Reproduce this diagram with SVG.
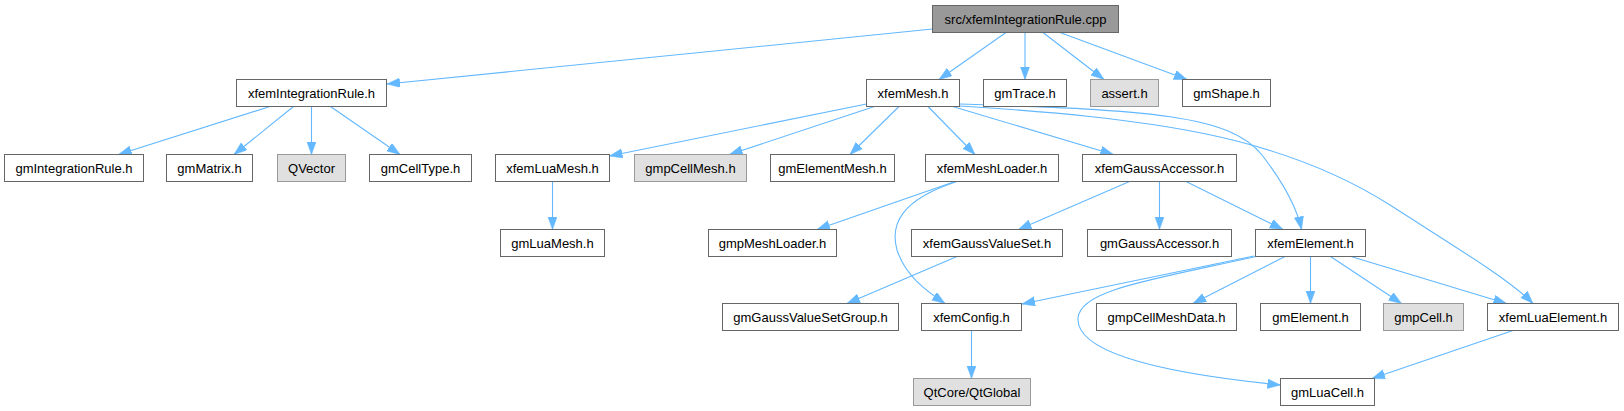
<svg xmlns="http://www.w3.org/2000/svg" width="1624" height="411" viewBox="0 0 1624 411">
<style>
.n rect{fill:#ffffff;stroke:#666666;stroke-width:1}
.g rect{fill:#e0e0e0;stroke:#999999;stroke-width:1}
.r rect{fill:#999999;stroke:#666666;stroke-width:1}
text{font-family:"Liberation Sans",Arial,sans-serif;font-size:13px;fill:#000000;text-anchor:middle}
#edges path{fill:none;stroke:#63b8ff;stroke-width:1.1;marker-end:url(#arr)}
</style>
<defs>
<marker id="arr" markerUnits="userSpaceOnUse" markerWidth="14" markerHeight="10" refX="13" refY="4.7" orient="auto">
<path d="M0,0 L13,4.7 L0,9.4 z" fill="#63b8ff" stroke="#63b8ff" stroke-width="0.5"/>
</marker>
</defs>
<rect width="1624" height="411" fill="#ffffff"/>
<g id="edges">
<path d="M932.5,29 L387,84"/>
<path d="M1006,32.5 L939,79.5"/>
<path d="M1025,32.5 L1025,79.5"/>
<path d="M1043,32.5 L1104,79.5"/>
<path d="M1060,32.5 L1187,79.5"/>
<path d="M270,106.5 L118.6,154.5"/>
<path d="M293.5,106.5 L234,154.5"/>
<path d="M311.5,106.5 L311.5,154.5"/>
<path d="M330.5,106.5 L400,154.5"/>
<path d="M866.5,104 L609.5,156"/>
<path d="M874.5,106.5 L729.5,154.5"/>
<path d="M899,106.5 L850,154.5"/>
<path d="M928,106.5 L975,154.5"/>
<path d="M952.6,106.5 L1113.4,154.5"/>
<path d="M960,104 C1150,110 1230,115 1262,155 C1285,185 1297,208 1301.5,229.5"/>
<path d="M960,106 C1150,118 1280,135 1390,205 C1460,250 1510,280 1533,303.5"/>
<path d="M552.5,181.5 L552.5,229.5"/>
<path d="M955,181.5 L817,229.5"/>
<path d="M957,181.5 C900,200 890,225 897,250 C905,275 925,290 945,303.5"/>
<path d="M1129.5,181.5 L1018.5,229.5"/>
<path d="M1159.5,181.5 L1159.5,229.5"/>
<path d="M1186,181.5 L1283,229.5"/>
<path d="M957,256.5 L847,303.5"/>
<path d="M1254,256 L1022,304"/>
<path d="M1256,256.5 C1150,280 1080,290 1078,318 C1076,350 1150,372 1280.5,385"/>
<path d="M1285,256.5 L1193,303.5"/>
<path d="M1310.5,256.5 L1310.5,303.5"/>
<path d="M1330.5,256.5 L1401.5,303.5"/>
<path d="M1351,256.5 L1506.5,303.5"/>
<path d="M1513,330.5 L1372,378.5"/>
<path d="M971.5,330.5 L971.5,378.5"/>
</g>
<g id="n_root" class="r"><rect x="932.5" y="5.5" width="186" height="27"/><text x="1025.5" y="23.5">src/xfemIntegrationRule.cpp</text></g>
<g id="n_xfemIntegrationRule" class="n"><rect x="236.5" y="79.5" width="150" height="27"/><text x="311.5" y="97.5">xfemIntegrationRule.h</text></g>
<g id="n_xfemMesh" class="n"><rect x="866.5" y="79.5" width="93" height="27"/><text x="913" y="97.5">xfemMesh.h</text></g>
<g id="n_gmTrace" class="n"><rect x="983.5" y="79.5" width="83" height="27"/><text x="1025" y="97.5">gmTrace.h</text></g>
<g id="n_assert" class="g"><rect x="1090.5" y="79.5" width="68" height="27"/><text x="1124.5" y="97.5">assert.h</text></g>
<g id="n_gmShape" class="n"><rect x="1182.5" y="79.5" width="88" height="27"/><text x="1226.5" y="97.5">gmShape.h</text></g>
<g id="n_gmIntegrationRule" class="n"><rect x="4.5" y="154.5" width="139" height="27"/><text x="74" y="172.5">gmIntegrationRule.h</text></g>
<g id="n_gmMatrix" class="n"><rect x="166.5" y="154.5" width="86" height="27"/><text x="209.5" y="172.5">gmMatrix.h</text></g>
<g id="n_QVector" class="g"><rect x="277.5" y="154.5" width="68" height="27"/><text x="311.5" y="172.5">QVector</text></g>
<g id="n_gmCellType" class="n"><rect x="369.5" y="154.5" width="102" height="27"/><text x="420.5" y="172.5">gmCellType.h</text></g>
<g id="n_xfemLuaMesh" class="n"><rect x="495.5" y="154.5" width="114" height="27"/><text x="552.5" y="172.5">xfemLuaMesh.h</text></g>
<g id="n_gmpCellMesh" class="g"><rect x="634.5" y="154.5" width="112" height="27"/><text x="690.5" y="172.5">gmpCellMesh.h</text></g>
<g id="n_gmElementMesh" class="n"><rect x="770.5" y="154.5" width="124" height="27"/><text x="832.5" y="172.5">gmElementMesh.h</text></g>
<g id="n_xfemMeshLoader" class="n"><rect x="925.5" y="154.5" width="133" height="27"/><text x="992" y="172.5">xfemMeshLoader.h</text></g>
<g id="n_xfemGaussAccessor" class="n"><rect x="1082.5" y="154.5" width="154" height="27"/><text x="1159.5" y="172.5">xfemGaussAccessor.h</text></g>
<g id="n_gmLuaMesh" class="n"><rect x="500.5" y="229.5" width="104" height="27"/><text x="552.5" y="247.5">gmLuaMesh.h</text></g>
<g id="n_gmpMeshLoader" class="n"><rect x="708.5" y="229.5" width="128" height="27"/><text x="772.5" y="247.5">gmpMeshLoader.h</text></g>
<g id="n_xfemGaussValueSet" class="n"><rect x="911.5" y="229.5" width="151" height="27"/><text x="987" y="247.5">xfemGaussValueSet.h</text></g>
<g id="n_gmGaussAccessor" class="n"><rect x="1087.5" y="229.5" width="144" height="27"/><text x="1159.5" y="247.5">gmGaussAccessor.h</text></g>
<g id="n_xfemElement" class="n"><rect x="1255.5" y="229.5" width="110" height="27"/><text x="1310.5" y="247.5">xfemElement.h</text></g>
<g id="n_gmGaussValueSetGroup" class="n"><rect x="722.5" y="303.5" width="176" height="27"/><text x="810.5" y="321.5">gmGaussValueSetGroup.h</text></g>
<g id="n_xfemConfig" class="n"><rect x="921.5" y="303.5" width="100" height="27"/><text x="971.5" y="321.5">xfemConfig.h</text></g>
<g id="n_gmpCellMeshData" class="n"><rect x="1096.5" y="303.5" width="140" height="27"/><text x="1166.5" y="321.5">gmpCellMeshData.h</text></g>
<g id="n_gmElement" class="n"><rect x="1260.5" y="303.5" width="100" height="27"/><text x="1310.5" y="321.5">gmElement.h</text></g>
<g id="n_gmpCell" class="g"><rect x="1383.5" y="303.5" width="80" height="27"/><text x="1423.5" y="321.5">gmpCell.h</text></g>
<g id="n_xfemLuaElement" class="n"><rect x="1487.5" y="303.5" width="131" height="27"/><text x="1553" y="321.5">xfemLuaElement.h</text></g>
<g id="n_QtGlobal" class="g"><rect x="913.5" y="378.5" width="117" height="27"/><text x="972" y="396.5">QtCore/QtGlobal</text></g>
<g id="n_gmLuaCell" class="n"><rect x="1280.5" y="378.5" width="94" height="27"/><text x="1327.5" y="396.5">gmLuaCell.h</text></g>
</svg>
